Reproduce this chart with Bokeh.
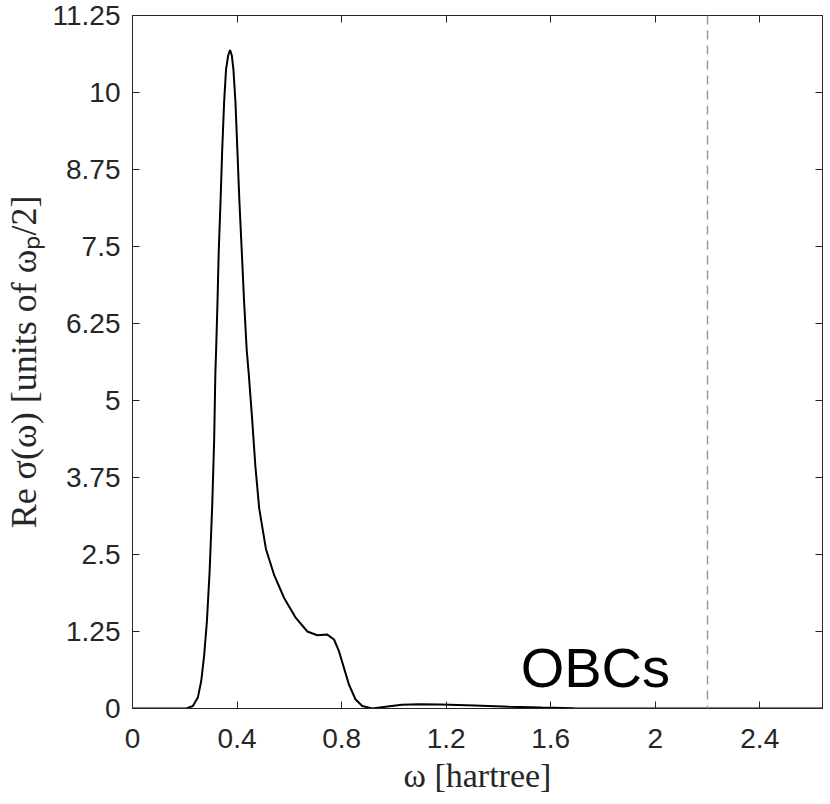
from bokeh.plotting import figure
from bokeh.models import Range1d, FixedTicker, LinearAxis, Span, Label, CustomLabelingPolicy
from bokeh.embed import file_html
from bokeh.resources import INLINE

# data
omega = [0.0, 0.10, 0.206, 0.231, 0.250, 0.263, 0.2744, 0.2846, 0.295, 0.305,
         0.3125, 0.317, 0.320, 0.3253, 0.330, 0.3368, 0.343, 0.3505, 0.358, 0.366,
         0.3733, 0.380, 0.386, 0.394, 0.4015, 0.409, 0.418, 0.4268, 0.437, 0.4446,
         0.457, 0.470, 0.485, 0.5105, 0.5425, 0.5806, 0.625, 0.669, 0.707, 0.7455,
         0.771, 0.790, 0.809, 0.828, 0.853, 0.879, 0.917, 0.968, 1.031, 1.095,
         1.18, 1.31, 1.44, 1.565, 1.69, 1.80, 2.64]
re_sigma = [0.0, 0.0, 0.0, 0.04, 0.177, 0.446, 0.876, 1.41, 2.22, 3.29,
            4.37, 5.44, 5.82, 6.62, 7.43, 8.23, 9.04, 9.84, 10.38, 10.6,
            10.69, 10.6, 10.38, 9.84, 9.04, 8.23, 7.43, 6.62, 5.82, 5.44,
            4.74, 3.94, 3.24, 2.59, 2.16, 1.79, 1.47, 1.25, 1.19, 1.20,
            1.12, 0.93, 0.66, 0.39, 0.15, 0.04, 0.0, 0.03, 0.06, 0.07,
            0.065, 0.05, 0.03, 0.016, 0.005, 0.0, 0.0]
x_ticks = [0, 0.4, 0.8, 1.2, 1.6, 2.0, 2.4]
x_tick_labels = ["0", "0.4", "0.8", "1.2", "1.6", "2", "2.4"]
y_ticks = [0, 1.25, 2.5, 3.75, 5, 6.25, 7.5, 8.75, 10, 11.25]
y_tick_labels = ["0", "1.25", "2.5", "3.75", "5", "6.25", "7.5", "8.75", "10", "11.25"]
x_limits = [0, 2.64]
y_limits = [0, 11.25]
cutoff_omega = 2.2
annotation = "OBCs"
annotation_pos = [1.485, 0.67]

AX = "#262626"
TICKF = "Liberation Sans"
LABF = "Liberation Serif"

p = figure(width=828, height=800, output_backend="svg", toolbar_location=None,
           x_range=Range1d(*x_limits), y_range=Range1d(*y_limits),
           min_border_left=129, min_border_top=15, min_border_bottom=92,
           min_border_right=6)
p.grid.visible = False
p.outline_line_color = AX
p.outline_line_width = 1
p.background_fill_color = "white"
p.border_fill_color = "white"

xa = p.xaxis[0]
xa.ticker = FixedTicker(ticks=x_ticks, minor_ticks=[])
xa.major_label_overrides = {t: l for t, l in zip(x_ticks, x_tick_labels)}
ya = p.yaxis[0]
ya.ticker = FixedTicker(ticks=y_ticks, minor_ticks=[])
ya.major_label_overrides = {t: l for t, l in zip(y_ticks, y_tick_labels)}

for ax in (xa, ya):
    ax.axis_line_color = AX
    ax.major_tick_line_color = AX
    ax.major_tick_in = 7
    ax.major_tick_out = 0
    ax.minor_tick_line_color = None
    ax.major_label_text_font = TICKF
    ax.major_label_text_font_size = "28px"
    ax.major_label_text_color = AX
    ax.axis_label_text_font = LABF
    ax.axis_label_text_font_style = "normal"
    ax.axis_label_text_color = AX

xa.axis_label = "ω [hartree]"
xa.axis_label_text_font_size = "34px"
xa.major_label_standoff = 20
xa.axis_label_standoff = 6
ya.axis_label = "Re σ(ω) [units of ωₚ/2]"
ya.axis_label_text_font_size = "36px"
ya.major_label_standoff = 12
ya.axis_label_standoff = 6

# box ticks on top and right (no labels)
hide_all = CustomLabelingPolicy(code="for (const i of indices) indices.unset(i)")
top = LinearAxis(ticker=FixedTicker(ticks=x_ticks, minor_ticks=[]))
right = LinearAxis(ticker=FixedTicker(ticks=y_ticks, minor_ticks=[]))
for ax in (top, right):
    ax.axis_line_color = AX
    ax.major_tick_line_color = AX
    ax.major_tick_in = 7
    ax.major_tick_out = 0
    ax.minor_tick_line_color = None
    ax.major_label_text_font_size = "1px"
    ax.major_label_standoff = 0
    ax.major_label_policy = hide_all
p.add_layout(top, "above")
p.add_layout(right, "right")

p.line(omega, re_sigma, line_color="black", line_width=2)

p.add_layout(Span(location=cutoff_omega, dimension="height", line_color="#999999",
                  line_width=1.5, line_dash="9 6"))

p.add_layout(Label(x=annotation_pos[0], y=annotation_pos[1], text=annotation,
                   text_font=TICKF, text_font_size="56px", text_color="black",
                   text_baseline="middle"))

open("out.html", "w").write(file_html(p, INLINE))
